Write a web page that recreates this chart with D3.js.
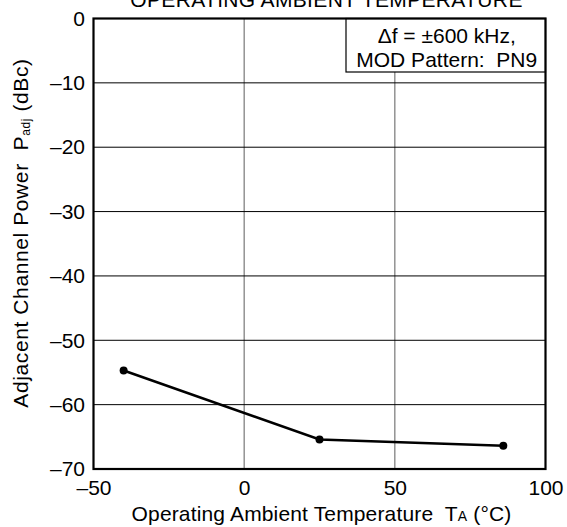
<!DOCTYPE html>
<html>
<head>
<meta charset="utf-8">
<script src="https://cdn.jsdelivr.net/npm/d3@7"></script>
<style>
  html, body { margin: 0; padding: 0; background: #fff; }
  svg { display: block; font-family: "Liberation Sans", Arial, sans-serif; }
  svg text { white-space: pre; }
</style>
</head>
<body>
<svg id="chart" width="567" height="527"></svg>
<script>
// Adjacent channel power vs. operating ambient temperature
const temperatures = [-40, 25, 86];
const padjValues = [-54.7, -65.4, -66.4];
const xTicks = [-50, 0, 50, 100];
const yTicks = [0, -10, -20, -30, -40, -50, -60, -70];
const titleText = "OPERATING AMBIENT TEMPERATURE";
const noteLines = ["\u0394f = \u00B1600 kHz,", "MOD Pattern:  PN9"];

const svg = d3.select("#chart");
const margin = { left: 93.5, right: 21.5, top: 18.5, bottom: 58 };
const W = 567, H = 527;
const FS = 21;
const x = d3.scaleLinear().domain([-50, 100]).range([margin.left, W - margin.right]);
const y = d3.scaleLinear().domain([-70, 0]).range([H - margin.bottom, margin.top]);
const fmt = d => d < 0 ? "\u2013" + Math.abs(d) : String(d);

// title (runs off the top edge)
svg.append("text")
  .attr("x", (x(-50) + x(100)) / 2 + 7).attr("y", 7)
  .attr("text-anchor", "middle").attr("font-size", 21)
  .attr("letter-spacing", 0.35)
  .text(titleText);

// grid: vertical lines gray, horizontal lines black
svg.append("g").selectAll("line").data(xTicks.slice(1, -1)).join("line")
  .attr("x1", d => x(d)).attr("x2", d => x(d))
  .attr("y1", y(0)).attr("y2", y(-70))
  .attr("stroke", "#777").attr("stroke-width", 1.2);
svg.append("g").selectAll("line").data(yTicks.slice(1, -1)).join("line")
  .attr("x1", x(-50)).attr("x2", x(100))
  .attr("y1", d => y(d)).attr("y2", d => y(d))
  .attr("stroke", "#000").attr("stroke-width", 1);

// axes (labels only)
const xAxis = svg.append("g")
  .attr("transform", `translate(0,${y(-70)})`)
  .call(d3.axisBottom(x).tickValues(xTicks).tickFormat(fmt).tickSize(0).tickPadding(11));
const yAxis = svg.append("g")
  .attr("transform", `translate(${x(-50)},0)`)
  .call(d3.axisLeft(y).tickValues(yTicks).tickFormat(fmt).tickSize(0).tickPadding(8.5));
[xAxis, yAxis].forEach(g => {
  g.select(".domain").remove();
  g.selectAll("text").attr("font-size", FS).attr("fill", "#000")
    .attr("font-family", "Liberation Sans, Arial, sans-serif");
});

// note box in the top-right corner
const boxX0 = 346, boxY1 = 72;
svg.append("rect")
  .attr("x", boxX0).attr("y", y(0))
  .attr("width", x(100) - boxX0).attr("height", boxY1 - y(0))
  .attr("fill", "#fff").attr("stroke", "#000").attr("stroke-width", 1.2);
svg.append("g").selectAll("text").data(noteLines).join("text")
  .attr("x", (boxX0 + x(100)) / 2 + 1).attr("y", (d, i) => 43 + i * 24)
  .attr("text-anchor", "middle").attr("font-size", FS)
  .text(d => d);

// plot frame
svg.append("rect")
  .attr("x", x(-50)).attr("y", y(0))
  .attr("width", x(100) - x(-50)).attr("height", y(-70) - y(0))
  .attr("fill", "none").attr("stroke", "#000").attr("stroke-width", 2.2);

// data line + markers
const pts = temperatures.map((t, i) => [t, padjValues[i]]);
svg.append("path")
  .datum(pts)
  .attr("d", d3.line().x(d => x(d[0])).y(d => y(d[1])))
  .attr("fill", "none").attr("stroke", "#000").attr("stroke-width", 2.5);
svg.append("g").selectAll("circle").data(pts).join("circle")
  .attr("cx", d => x(d[0])).attr("cy", d => y(d[1])).attr("r", 4)
  .attr("fill", "#000");

// axis titles
const xl = svg.append("text")
  .attr("x", 321.5).attr("y", 521)
  .attr("text-anchor", "middle").attr("font-size", FS)
  .attr("letter-spacing", 0.15);
xl.append("tspan").text("Operating Ambient Temperature  T");
xl.append("tspan").attr("font-size", 14).text("A");
xl.append("tspan").text(" (\u00B0C)");

const yl = svg.append("text")
  .attr("transform", `translate(28,233) rotate(-90)`)
  .attr("text-anchor", "middle").attr("font-size", FS)
  .attr("letter-spacing", 0.6);
yl.append("tspan").text("Adjacent Channel Power  P");
yl.append("tspan").attr("font-size", 12).attr("dy", 2).text("adj");
yl.append("tspan").attr("dy", -2).text(" (dBc)");
</script>
</body>
</html>
